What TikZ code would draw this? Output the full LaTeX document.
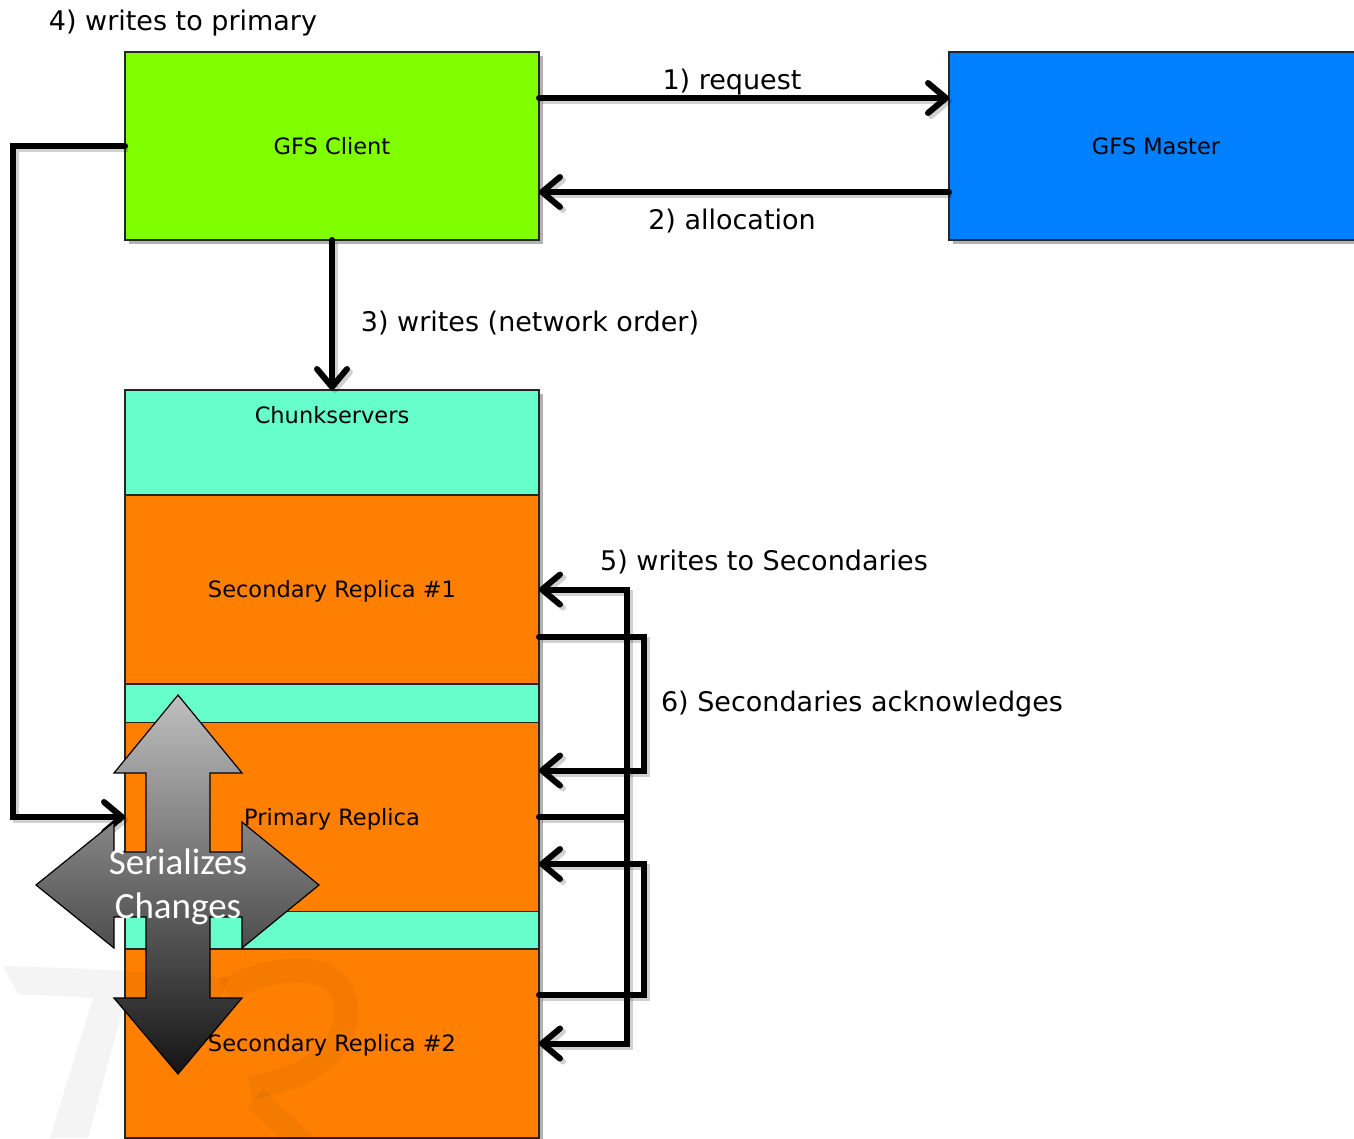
\documentclass[tikz,border=0pt]{standalone}
\usepackage{fontspec}
\setmainfont{DejaVu Sans}
\newfontfamily\calibfont{Carlito}
\usetikzlibrary{arrows.meta,shadows}
\definecolor{clientgreen}{HTML}{80FF00}
\definecolor{masterblue}{HTML}{0080FF}
\definecolor{chunkcyan}{HTML}{66FFCC}
\definecolor{replorange}{HTML}{FF8000}

\begin{document}
\begin{tikzpicture}[x=1pt,y=-1pt,
  box/.style={draw=black!85, line width=1.2pt, inner sep=0pt, outer sep=0pt,
    minimum width=414pt, text height=16.4pt, text depth=0pt,
    font=\fontsize{22.5}{27}\selectfont},
  boxshadow/.style={drop shadow={shadow xshift=4pt, shadow yshift=-4pt, opacity=0.3, fill=black}},
  conn/.style={line width=6pt, line cap=round, miter limit=4,
    preaction={draw=black, draw opacity=0.18, line width=6pt,
      transform canvas={shift={(3pt,-3pt)}}}},
  arr/.style={conn, -{Straight Barb[length=18pt,width=30pt,round]}},
  lbl/.style={anchor=base, inner sep=0pt, font=\fontsize{27}{32}\selectfont},
  bigarrow/.style={draw=black, line width=1.2pt, top color=black!25, bottom color=black!92},
  logo/.style={black, opacity=0.045},
]
\useasboundingbox (0,0) rectangle (1354,1138);
\clip (0,0) rectangle (1354,1138);

% client and master
\node[box, fill=clientgreen, minimum height=188pt, boxshadow] (client) at (332,146) {GFS Client};
\node[box, fill=masterblue, minimum height=188pt, boxshadow] (master) at (1156,146) {GFS Master};

% chunkserver stack
\node[box, fill=chunkcyan, minimum height=760pt, anchor=north, boxshadow] (chunk) at (332,390) {};
\node[inner sep=0pt, text height=16.4pt, text depth=0pt, font=\fontsize{22.5}{27}\selectfont]
  (chunktitle) at (332,415) {Chunkservers};
\node[box, fill=replorange, minimum height=189pt] (sec1) at (332,589.5) {Secondary Replica \#1};
\node[box, fill=replorange, minimum height=189pt] (prim) at (332,817) {Primary Replica};
\node[box, fill=replorange, minimum height=189pt] (sec2) at (332,1043.5) {Secondary Replica \#2};

% faint logo in the lower left corner
\fill[logo] (3,966) .. controls (80,968) and (160,972) .. (228,978)
  -- (220,1002) -- (125,1000) -- (88,1138) -- (50,1138) -- (93,998) -- (18,994) -- cycle;
\draw[logo, line width=24pt]
  (225,990) .. controls (280,962) and (345,960) .. (346,1010)
  .. controls (348,1055) and (300,1080) .. (250,1088);
\draw[logo, line width=24pt] (255,1098) -- (305,1145);

% client <-> master
\draw[arr] ([yshift=48pt]client.east) -- ([yshift=48pt]master.west);
\draw[arr] ([yshift=-46pt]master.west) -- ([yshift=-46pt]client.east);
\node[lbl] (l1) at (732,89) {1) request};
\node[lbl] (l2) at (732,229) {2) allocation};

% client -> chunkservers
\draw[arr] (client.south) -- (chunk.north);
\node[lbl] (l3) at (530,331) {3) writes (network order)};

% client -> primary
\draw[arr] (client.west) -- ++(-112,0) |- (prim.west);
\node[lbl] (l4) at (183,30) {4) writes to primary};

% primary -> secondaries
\draw[conn] (prim.east) -- ++(88,0) coordinate (fork);
\draw[arr] (fork) |- (sec1.east);
\draw[arr] (fork) |- (sec2.east);
\node[lbl] (l5) at (764,570) {5) writes to Secondaries};

% secondaries -> primary acknowledgements
\draw[arr] ([yshift=-47.5pt]sec1.east) -- ++(105,0) |- ([yshift=46.5pt]prim.east);
\draw[arr] ([yshift=48.5pt]sec2.east) -- ++(105,0) |- ([yshift=-47pt]prim.east);
\node[lbl] (l6) at (862,711) {6) Secondaries acknowledges};

% four-way arrow on the primary
\path[bigarrow] (178,695) -- (242,773) -- (210,773) -- (210,852) -- (242,852) -- (242,822)
  -- (319,885) -- (242,948) -- (242,917) -- (210,917) -- (210,998) -- (242,998)
  -- (178,1074) -- (114,998) -- (146,998) -- (146,917) -- (114,917) -- (114,948)
  -- (36,885) -- (114,822) -- (114,852) -- (146,852) -- (146,773) -- (114,773) -- cycle;
\node[font=\calibfont\fontsize{37}{44}\selectfont, text=white, align=center, inner sep=0pt]
  (serial) at (178,887) {Serializes\\Changes};
\end{tikzpicture}
\end{document}
